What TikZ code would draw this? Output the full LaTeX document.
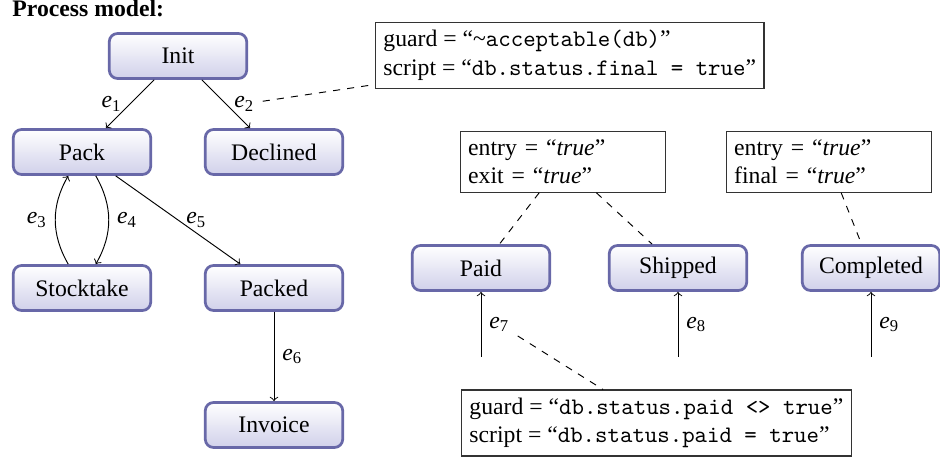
\documentclass[tikz,border=0pt]{standalone}
\usepackage{fontspec}
\setmainfont{Liberation Serif}
\usetikzlibrary{calc}
\definecolor{stateborder}{RGB}{104,104,168}
\definecolor{statefill}{RGB}{208,208,234}
\newcommand\lab[1]{\textit{e}\textsubscript{#1}}
\begin{document}
\begin{tikzpicture}[x=0.422pt,y=-0.422pt,
  font=\fontsize{10}{12}\selectfont,
  state/.style={draw=stateborder, line width=1.15pt, rounded corners=3.5pt,
    top color=white, bottom color=statefill,
    minimum width=58pt, minimum height=19pt, inner sep=2pt},
  note/.style={draw=black!80, line width=0.5pt, align=left, inner sep=3.33pt},
  noteW/.style={note, text width=80pt},
  edge/.style={->, line width=0.4pt},
  annot/.style={dashed, line width=0.4pt}]
\useasboundingbox (0,0) rectangle (940,458);
\node[anchor=base west, inner sep=0, font=\fontsize{10}{12}\selectfont\bfseries] (title) at (12,17) {Process model:};
\node[state] (init) at (178,56) {Init};
\node[state] (pack) at (82,152) {Pack};
\node[state] (declined) at (274,152) {Declined};
\node[state] (stock) at (82,288) {Stocktake};
\node[state] (packed) at (274,288) {Packed};
\node[state] (invoice) at (274,425) {Invoice};
\node[state] (paid) at (481,268) {Paid};
\node[state] (shipped) at (678,268) {Shipped};
\node[state] (completed) at (871,268) {Completed};
\coordinate (s7) at (481,357);
\coordinate (s8) at (678,357);
\coordinate (s9) at (871,357);

\draw[edge] (init) -- node[left] (e1) {\lab{1}} (pack);
\draw[edge] (init) -- node[right] (e2) {\lab{2}} (declined);
\draw[edge] (stock) to[bend left=30] node[left] (e3) {\lab{3}} (pack);
\draw[edge] (pack) to[bend left=30] node[right] (e4) {\lab{4}} (stock);
\draw[edge] (pack) -- node[right] (e5) {\lab{5}} (packed);
\draw[edge] (packed) -- node[right] (e6) {\lab{6}} (invoice);
\draw[edge] (s7) -- node[right] (e7) {\lab{7}} (paid);
\draw[edge] (s8) -- node[right] (e8) {\lab{8}} (shipped);
\draw[edge] (s9) -- node[right] (e9) {\lab{9}} (completed);

\node[note, anchor=north west] (n1) at (375,22) {guard = “\textasciitilde\texttt{acceptable(db)}”\\ script = “\texttt{db.status.final = true}”};
\node[noteW] (n2) at (563,162) {entry = “\textit{true}”\\ exit = “\textit{true}”};
\node[noteW] (n3) at (829,162) {entry = “\textit{true}”\\ final = “\textit{true}”};
\node[note, anchor=north west] (n4) at (461,389.5) {guard = “\texttt{db.status.paid <> true}”\\ script = “\texttt{db.status.paid = true}”};

\draw[annot] (e2) -- (n1);
\draw[annot] (n2) -- (paid);
\draw[annot] (n2) -- (shipped);
\draw[annot] (n3) -- (completed);
\draw[annot] (e7) -- (n4);
\end{tikzpicture}
\end{document}
